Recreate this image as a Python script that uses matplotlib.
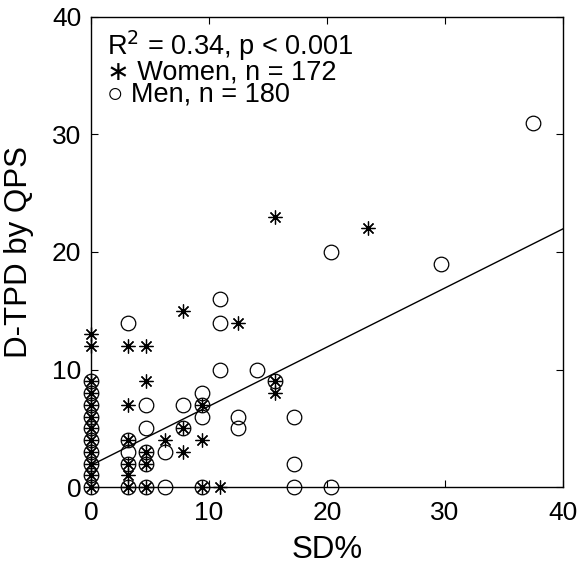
import matplotlib
matplotlib.use("Agg")
import matplotlib.pyplot as plt
import numpy as np

plt.rcParams['font.family'] = ['Liberation Sans', 'DejaVu Sans']

# Women (asterisks)
women_x = [0]*12 + [3.125]*6 + [4.69]*5 + [6.25] + [7.81]*3 + [9.375]*3 + [10.94] + [12.5] + [15.63]*3 + [23.44]
women_y = [0, 1, 2, 3, 4, 5, 6, 7, 8, 9, 12, 13,
           0, 1, 2, 4, 7, 12,
           0, 2, 3, 9, 12,
           4,
           3, 5, 15,
           0, 4, 7,
           0,
           14,
           8, 9, 23,
           22]

# Men (circles)
men_x = [0]*10 + [3.125]*5 + [4.69]*5 + [6.25]*2 + [7.81]*2 + [9.375]*4 + [10.94]*3 + [12.5]*2 + [14.06] + [15.63] + [17.19]*3 + [20.31]*2 + [29.69] + [37.5]
men_y = [0, 1, 2, 3, 4, 5, 6, 7, 8, 9,
         0, 2, 3, 4, 14,
         0, 2, 3, 5, 7,
         0, 3,
         5, 7,
         0, 6, 7, 8,
         10, 14, 16,
         5, 6,
         10,
         9,
         0, 2, 6,
         0, 20,
         19,
         31]

fit_intercept = 1.85
fit_slope = 0.503
ticks = [0, 10, 20, 30, 40]
legend_lines = ["R$^2$ = 0.34, p < 0.001", "\u2217 Women, n = 172", "\u25cb Men, n = 180"]

fig = plt.figure(figsize=(5.81, 5.70), dpi=100)
ax = fig.add_axes([0.1566, 0.1456, 0.8124, 0.8246])

ax.plot(men_x, men_y, linestyle='none', marker='o', markersize=10.5,
        markerfacecolor='none', markeredgecolor='black', markeredgewidth=0.9, clip_on=False)
ax.plot(women_x, women_y, linestyle='none', marker=(8, 2, 0), markersize=10,
        markeredgecolor='black', markeredgewidth=0.9, clip_on=False)

xl = np.array([0, 40])
ax.plot(xl, fit_intercept + fit_slope * xl, color='black', linewidth=1.0)

ax.set_xlim(0, 40)
ax.set_ylim(0, 40)
ax.set_xticks(ticks)
ax.set_yticks(ticks)
ax.tick_params(direction='in', length=5, width=0.8, top=True, right=True,
               labelsize=19, colors='black')
ax.tick_params(axis='x', pad=10)
ax.tick_params(axis='y', pad=7)
for s in ax.spines.values():
    s.set_linewidth(1.0)
ax.set_xlabel("SD%", fontsize=22.5)
ax.set_ylabel("D-TPD by QPS", fontsize=22.5)
ax.xaxis.set_label_coords(0.5, -0.103)
ax.yaxis.set_label_coords(-0.12, 0.5)

ax.text(0.033, 0.975, "\n".join(legend_lines), transform=ax.transAxes,
        fontsize=19.5, va='top', ha='left', linespacing=0.8)

fig.savefig("out.png", dpi=100)
